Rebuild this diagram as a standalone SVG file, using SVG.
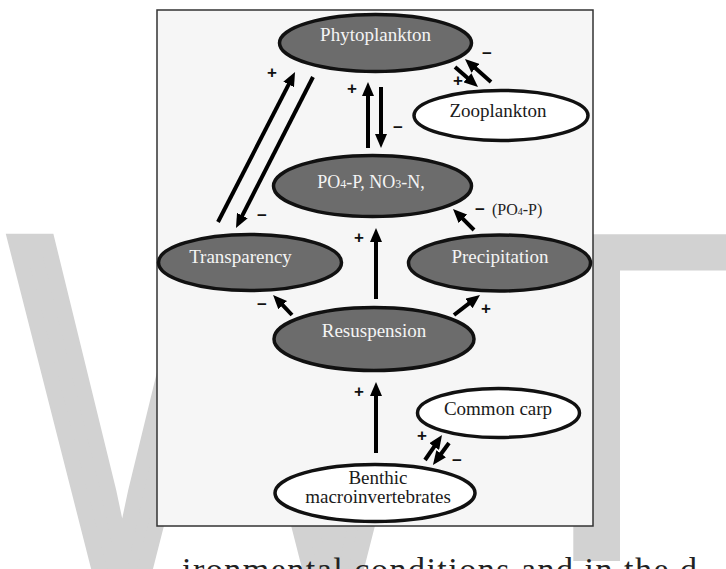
<svg xmlns="http://www.w3.org/2000/svg" width="726" height="569" viewBox="0 0 726 569">
<style>
.wm{fill:#d2d2d2;font-family:"Liberation Sans",Arial,sans-serif}
.wv{stroke:#d2d2d2;stroke-width:24;stroke-linejoin:miter}
.dark{fill:#6c6c6c;stroke:#111;stroke-width:3.5}
.light{fill:#ffffff;stroke:#111;stroke-width:3.5}
.tw{fill:#f4f4f4;font-family:"Liberation Serif","Times New Roman",serif;font-size:19px;text-anchor:middle}
.tb{fill:#1a1a1a;font-family:"Liberation Serif","Times New Roman",serif;font-size:19px;text-anchor:middle}
.sub{font-size:12px}
.ln{stroke:#000;stroke-width:4;fill:none;marker-end:url(#ah)}
.sg{fill:#111;font-family:"Liberation Sans",Arial,sans-serif;font-size:17px;font-weight:bold;text-anchor:middle}
.pg{fill:#222;font-family:"Liberation Serif","Times New Roman",serif;font-size:34px;letter-spacing:1.5px}
</style>
<defs>
<marker id="ah" viewBox="0 0 14 12" refX="1" refY="6" markerWidth="14" markerHeight="12" markerUnits="userSpaceOnUse" orient="auto">
<path d="M0,0 L14,6 L0,12 z" fill="#000"/>
</marker>
</defs>
<rect width="726" height="569" fill="#ffffff"/>
<g id="watermark">
<text class="wm wv" font-size="512" transform="translate(15.5,598) scale(0.624,1)">V</text>
<text class="wm wv" font-size="512" transform="translate(226.5,598) scale(0.624,1)">V</text>
<text class="wm" font-size="475" transform="translate(443,561) scale(1.06,1)">T</text>
</g>
<text class="pg" x="182" y="581">ironmental conditions and in the d</text>
<rect id="frame" x="157" y="10" width="436" height="516" fill="#f6f6f6" stroke="#333" stroke-width="1.5"/>
<g id="connectors">
<line class="ln" x1="368" y1="148" x2="368" y2="95"/>
<line class="ln" x1="381" y1="87" x2="381" y2="135"/>
<line class="ln" x1="218" y1="222" x2="289.1" y2="83.6"/>
<line class="ln" x1="313" y1="77" x2="241.9" y2="216.4"/>
<line class="ln" x1="455" y1="67" x2="468.2" y2="78.5"/>
<line class="ln" x1="491" y1="82" x2="474.7" y2="67.6"/>
<line class="ln" x1="474" y1="230" x2="462.2" y2="218.2"/>
<line class="ln" x1="376" y1="299" x2="376" y2="241"/>
<line class="ln" x1="292" y1="315" x2="282" y2="304.4"/>
<line class="ln" x1="454" y1="315" x2="469.7" y2="302.9"/>
<line class="ln" x1="376" y1="453" x2="376" y2="395"/>
<line class="ln" x1="425" y1="460" x2="434.7" y2="445.8"/>
<line class="ln" x1="449" y1="443" x2="440.6" y2="454.5"/>
<text class="sg" x="272" y="77.5">+</text>
<text class="sg" x="262" y="220.5">−</text>
<text class="sg" x="352" y="93.5">+</text>
<text class="sg" x="398" y="132.5">−</text>
<text class="sg" x="458" y="85.5">+</text>
<text class="sg" x="487" y="58.5">−</text>
<text class="sg" x="480" y="214.5">−</text>
<text class="sg" x="359" y="242.5">+</text>
<text class="sg" x="262" y="309.5">−</text>
<text class="sg" x="486" y="313.5">+</text>
<text class="sg" x="359" y="396.5">+</text>
<text class="sg" x="422" y="440.5">+</text>
<text class="sg" x="457" y="465.5">−</text>
<text x="492" y="215" fill="#222" font-family="Liberation Serif, Times New Roman, serif" font-size="16">(PO<tspan font-size="10">4</tspan>-P)</text>
</g>
<g id="phytoplankton">
<ellipse class="dark" cx="375.5" cy="43" rx="96" ry="28.5"/>
<text class="tw" x="375.5" y="41">Phytoplankton</text>
</g>
<g id="zooplankton">
<ellipse class="light" cx="501" cy="115.5" rx="87" ry="25"/>
<text class="tb" x="498" y="117">Zooplankton</text>
</g>
<g id="nutrients">
<ellipse class="dark" cx="372.5" cy="186" rx="99" ry="30.5"/>
<text class="tw" x="371" y="188" style="font-size:18px">PO<tspan class="sub">4</tspan>-P, NO<tspan class="sub">3</tspan>-N,</text>
</g>
<g id="transparency">
<ellipse class="dark" cx="250" cy="262.5" rx="91.5" ry="28"/>
<text class="tw" x="240.5" y="263">Transparency</text>
</g>
<g id="precipitation">
<ellipse class="dark" cx="499.5" cy="263" rx="91" ry="28"/>
<text class="tw" x="500" y="263">Precipitation</text>
</g>
<g id="resuspension">
<ellipse class="dark" cx="374" cy="339" rx="100" ry="31.5"/>
<text class="tw" x="374" y="337">Resuspension</text>
</g>
<g id="common-carp">
<ellipse class="light" cx="498.5" cy="413" rx="81" ry="24.5"/>
<text class="tb" x="498" y="415">Common carp</text>
</g>
<g id="benthic">
<ellipse class="light" cx="375" cy="493" rx="100" ry="28.5"/>
<text class="tb" x="378" y="484">Benthic</text>
<text class="tb" x="378" y="503">macroinvertebrates</text>
</g>
</svg>
